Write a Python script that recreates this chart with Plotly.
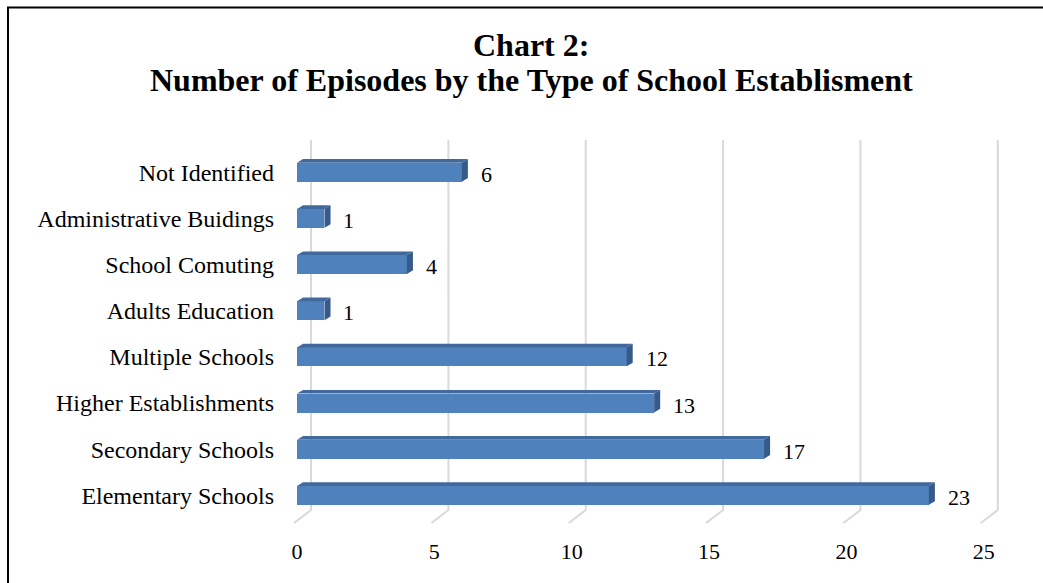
import plotly.graph_objects as go

# Episodes per type of school establishment (bottom to top)
categories = [
    "Elementary Schools",
    "Secondary Schools",
    "Higher Establishments",
    "Multiple Schools",
    "Adults Education",
    "School Comuting",
    "Administrative Buidings",
    "Not Identified",
]
episodes = [23, 17, 13, 12, 1, 4, 1, 6]
x_ticks = [0, 5, 10, 15, 20, 25]

title_line1 = "Chart 2:"
title_line2 = "Number of Episodes by the Type of School Establisment"

FONT = "Liberation Serif, Times New Roman, serif"
FRONT = "#4f81bd"
TOP = "#41699e"
SIDE = "#365a8a"
GRID = "#d9d9d9"

BAR_W = 0.41      # thickness of the front face (category units)
DX, DY = 0.22, 0.08  # depth offset of the 3-D extrusion
BACK = 0.51       # back wall offset of the gridlines (value units)

# plot-area geometry in pixels
W, H = 1043, 583
L, R, T, B = 283, 1025, 133, 530
XR = [-0.51, 26.5]
YR = [-0.75, 7.85]

ypos = list(range(len(categories)))

fig = go.Figure()

# gridlines on the back wall, with a short slant to the floor's front edge
for t in x_ticks:
    fig.add_shape(type="path", xref="x", yref="y", layer="below",
                  path=(f"M {t - 0.62 + BACK},-0.60 L {t + BACK},-0.317 "
                        f"L {t + BACK},7.70"),
                  line=dict(color=GRID, width=2))

# front faces of the bars
fig.add_trace(go.Bar(x=episodes, y=ypos, orientation="h", width=BAR_W,
                     marker=dict(color=FRONT, line=dict(width=0)),
                     showlegend=False))

# top and side faces of the extruded bars
for v, y in zip(episodes, ypos):
    top = y + BAR_W / 2
    bot = y - BAR_W / 2
    fig.add_trace(go.Scatter(
        x=[0, v, v + DX, DX, 0], y=[top, top, top + DY, top + DY, top],
        mode="lines", fill="toself", fillcolor=TOP,
        line=dict(width=0, color=TOP), hoverinfo="skip", showlegend=False))
    fig.add_trace(go.Scatter(
        x=[v, v + DX, v + DX, v, v], y=[bot, bot + DY, top + DY, top, bot],
        mode="lines", fill="toself", fillcolor=SIDE,
        line=dict(width=0, color=SIDE), hoverinfo="skip", showlegend=False))

# value labels
for v, y in zip(episodes, ypos):
    fig.add_annotation(x=v, y=y, text=str(v), showarrow=False,
                       xanchor="left", xshift=17, yshift=-2,
                       font=dict(family=FONT, size=22, color="black"))

def px_to_paper_x(px):
    return (px - L) / (R - L)

def px_to_paper_y(py):
    return (B - py) / (B - T)

# two-line title
fig.add_annotation(xref="paper", yref="paper",
                   x=px_to_paper_x(531), y=px_to_paper_y(45),
                   text=f"<b>{title_line1}</b>", showarrow=False,
                   xanchor="center", yanchor="middle",
                   font=dict(family=FONT, size=32, color="black"))
fig.add_annotation(xref="paper", yref="paper",
                   x=px_to_paper_x(531), y=px_to_paper_y(80.5),
                   text=f"<b>{title_line2}</b>", showarrow=False,
                   xanchor="center", yanchor="middle",
                   font=dict(family=FONT, size=32, color="black"))

# chart frame
fig.add_shape(type="rect", xref="paper", yref="paper",
              x0=px_to_paper_x(8), x1=px_to_paper_x(1070),
              y0=px_to_paper_y(610), y1=px_to_paper_y(7.5),
              line=dict(color="black", width=2), fillcolor="rgba(0,0,0,0)")

fig.update_layout(
    width=W, height=H,
    margin=dict(l=L, r=W - R, t=T, b=H - B, pad=0),
    paper_bgcolor="white", plot_bgcolor="white",
    font=dict(family=FONT, size=22, color="black"),
    bargap=0,
    xaxis=dict(range=XR, tickvals=x_ticks, ticktext=[str(t) for t in x_ticks],
               showgrid=False, zeroline=False, showline=False, ticks="",
               ticklabelstandoff=6, fixedrange=True,
               tickfont=dict(family=FONT, size=22, color="black")),
    yaxis=dict(range=YR, tickvals=ypos, ticktext=categories,
               showgrid=False, zeroline=False, showline=False, ticks="",
               ticklabelstandoff=8, fixedrange=True,
               tickfont=dict(family=FONT, size=24, color="black")),
)

fig.write_html("out.html")
